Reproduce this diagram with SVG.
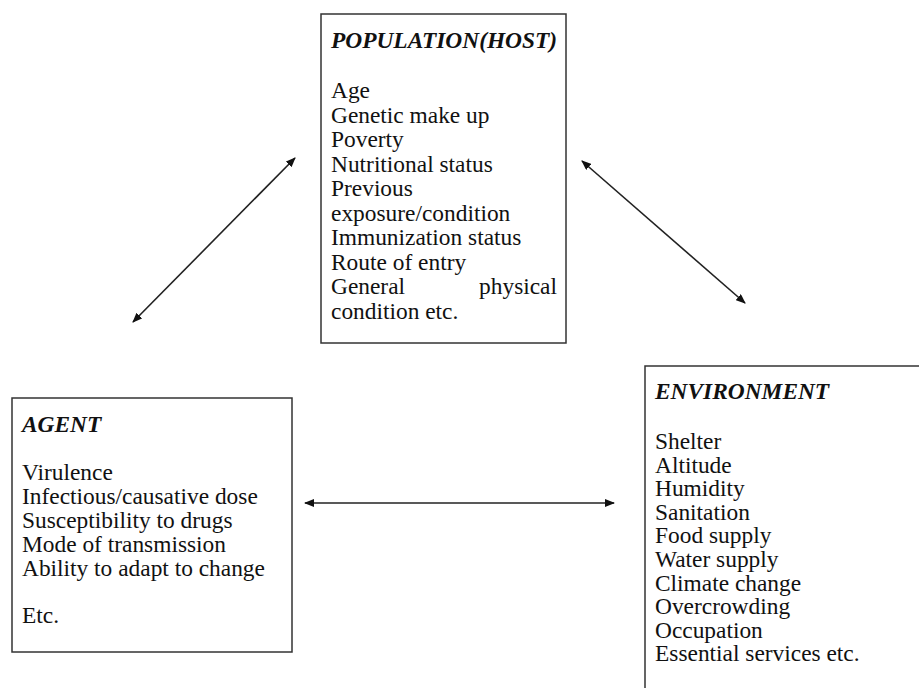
<svg xmlns="http://www.w3.org/2000/svg" width="919" height="688" viewBox="0 0 919 688">
<style>
.box{fill:#fff;stroke:#333;stroke-width:1.5}
.t{font-family:"Liberation Serif","Times New Roman",serif;font-size:23.4px;fill:#111}
.h{font-family:"Liberation Serif","Times New Roman",serif;font-size:23.4px;font-weight:bold;font-style:italic;fill:#111}
.c{stroke:#222;stroke-width:1.6;fill:none;marker-start:url(#ah);marker-end:url(#ah)}
</style>
<defs>
<marker id="ah" viewBox="0 0 10 8" refX="9" refY="4" markerWidth="10" markerHeight="8" markerUnits="userSpaceOnUse" orient="auto-start-reverse">
<path d="M0,0 L10,4 L0,8 Z" fill="#111"/>
</marker>
</defs>
<rect width="919" height="688" fill="#fff"/>
<g id="population">
<rect class="box" x="321" y="14" width="245" height="329"/>
<text class="h" x="331" y="48">POPULATION(HOST)</text>
<text class="t" x="331" y="98">Age</text>
<text class="t" x="331" y="122.5">Genetic make up</text>
<text class="t" x="331" y="147">Poverty</text>
<text class="t" x="331" y="171.5">Nutritional status</text>
<text class="t" x="331" y="196">Previous</text>
<text class="t" x="331" y="220.5">exposure/condition</text>
<text class="t" x="331" y="245">Immunization status</text>
<text class="t" x="331" y="269.5">Route of entry</text>
<text class="t" x="331" y="294">General</text>
<text class="t" x="557" y="294" text-anchor="end">physical</text>
<text class="t" x="331" y="318.5">condition etc.</text>
</g>
<g id="agent">
<rect class="box" x="12" y="398" width="280" height="254"/>
<text class="h" x="22" y="432">AGENT</text>
<text class="t" x="22" y="480">Virulence</text>
<text class="t" x="22" y="504">Infectious/causative dose</text>
<text class="t" x="22" y="528">Susceptibility to drugs</text>
<text class="t" x="22" y="552">Mode of transmission</text>
<text class="t" x="22" y="576">Ability to adapt to change</text>
<text class="t" x="22" y="623">Etc.</text>
</g>
<g id="environment">
<rect class="box" x="645" y="366" width="300" height="340"/>
<text class="h" x="655" y="399">ENVIRONMENT</text>
<text class="t" x="655" y="449">Shelter</text>
<text class="t" x="655" y="472.6">Altitude</text>
<text class="t" x="655" y="496.2">Humidity</text>
<text class="t" x="655" y="519.8">Sanitation</text>
<text class="t" x="655" y="543.4">Food supply</text>
<text class="t" x="655" y="567">Water supply</text>
<text class="t" x="655" y="590.6">Climate change</text>
<text class="t" x="655" y="614.2">Overcrowding</text>
<text class="t" x="655" y="637.8">Occupation</text>
<text class="t" x="655" y="661.4">Essential services etc.</text>
</g>
<g id="connectors">
<line class="c" x1="133" y1="322" x2="295" y2="158"/>
<line class="c" x1="582" y1="161" x2="745" y2="303"/>
<line class="c" x1="305" y1="503" x2="614" y2="503"/>
</g>
</svg>
